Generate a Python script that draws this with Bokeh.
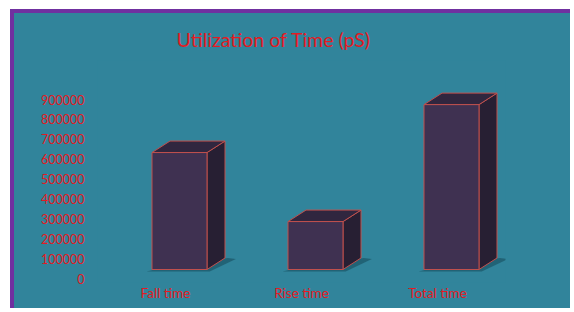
from bokeh.plotting import figure
from bokeh.models import Range1d, FixedTicker, NumeralTickFormatter
from bokeh.embed import file_html
from bokeh.resources import INLINE

# ---- data ----
categories = ["Fall time", "Rise time", "Total time"]
values = [588000, 241000, 829000]
y_ticks = [0, 100000, 200000, 300000, 400000, 500000, 600000, 700000, 800000, 900000]

# ---- style ----
TEAL = "#31849B"
PURPLE = "#7030A0"
RED = "#E31B23"
FRONT = "#3F3151"
TOP = "#30263F"
SIDE = "#271F33"
EDGE = "#C0504D"
FONT = "Lato"

BORDER = 4
W, H = 560, 299                     # canvas size (border is drawn outside it)
px_per_unit = 179 / 900000.0        # vertical scale
bar_shift = 9 / px_per_unit         # bars' floor sits 9px above the 0 label
y0, y1 = -4 / px_per_unit, 218 / px_per_unit

p = figure(width=W, height=H, output_backend="svg", toolbar_location=None,
           x_range=Range1d(-0.5, 2.5), y_range=Range1d(y0, y1),
           min_border_left=83, min_border_right=W - 491, min_border_top=47,
           min_border_bottom=H - 269,
           title="Utilization  of Time (pS)")
p.extra_y_ranges = {"bars": Range1d(y0 - bar_shift, y1 - bar_shift)}

p.styles = {"border-left": "%dpx solid %s" % (BORDER, PURPLE),
            "border-top": "%dpx solid %s" % (BORDER, PURPLE),
            "margin-left": "10px", "margin-top": "9px",
            "background-color": TEAL}

p.background_fill_color = TEAL
p.border_fill_color = TEAL
p.outline_line_color = None
p.grid.visible = False

p.title.text_color = RED
p.title.text_font = FONT
p.title.text_font_size = "19.5px"
p.title.text_font_style = "normal"
p.title.align = "left"
p.title.offset = 79
p.title.vertical_align = "top"
p.title.standoff = 16

# ---- 3D column geometry ----
cat_px = 136.0
w = 55 / cat_px
dx = 18 / cat_px
dyv = 11.5 / px_per_unit
shift = 14 / cat_px
px = 1 / px_per_unit

xs_front, xs_top, ys_top, xs_side, ys_side, xs_sh, ys_sh = [], [], [], [], [], [], []
for i, v in enumerate(values):
    xc = i + shift
    xl, xr = xc - w / 2, xc + w / 2
    xs_front.append(xc)
    xs_top.append([xl, xr, xr + dx, xl + dx])
    ys_top.append([v, v, v + dyv, v + dyv])
    xs_side.append([xr, xr + dx, xr + dx, xr])
    ys_side.append([0, dyv, v + dyv, v])
    xs_sh.append([xl - 0.04, xr + 0.02, xr + dx + 0.08, xr + dx + 0.02, xl + 0.02])
    ys_sh.append([-2 * px, -2 * px, dyv - 1 * px, dyv, 0])

p.patches(xs_sh, ys_sh, y_range_name="bars", fill_color="#1B5566", fill_alpha=0.7,
          line_color=None)
p.patches(xs_side, ys_side, y_range_name="bars", fill_color=SIDE, line_color=EDGE,
          line_width=1)
p.patches(xs_top, ys_top, y_range_name="bars", fill_color=TOP, line_color=EDGE,
          line_width=1)
p.vbar(x=xs_front, top=values, bottom=0, width=w, y_range_name="bars",
       fill_color=FRONT, line_color=EDGE, line_width=1)

# ---- axes ----
ya = p.yaxis[0]
ya.ticker = FixedTicker(ticks=y_ticks)
ya.formatter = NumeralTickFormatter(format="0")
ya.axis_line_color = None
ya.major_tick_line_color = None
ya.minor_tick_line_color = None
ya.major_tick_out = 0
ya.major_tick_in = 0
ya.major_label_standoff = 13
ya.major_label_text_color = RED
ya.major_label_text_font = FONT
ya.major_label_text_font_size = "12.5px"

xa = p.xaxis[0]
xa.ticker = FixedTicker(ticks=list(range(len(categories))))
xa.major_label_overrides = {i: c for i, c in enumerate(categories)}
xa.axis_line_color = None
xa.major_tick_line_color = None
xa.minor_tick_line_color = None
xa.major_tick_out = 0
xa.major_tick_in = 0
xa.major_label_standoff = 2
xa.major_label_text_color = RED
xa.major_label_text_font = FONT
xa.major_label_text_font_size = "13.5px"

open("out.html", "w").write(file_html(p, INLINE))
